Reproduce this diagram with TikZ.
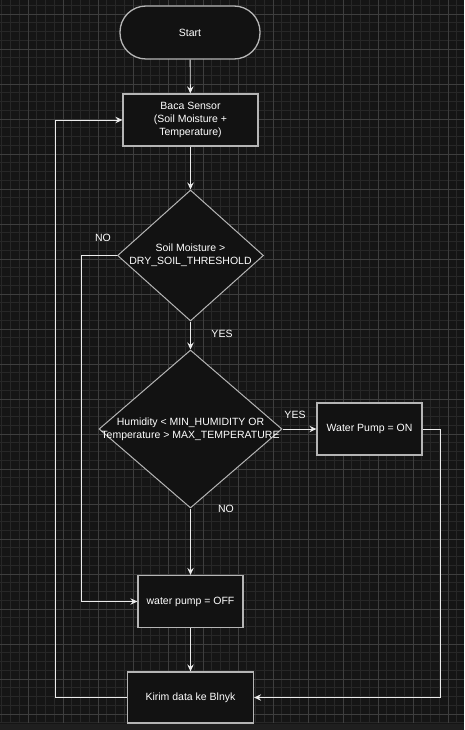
\documentclass[tikz,border=0pt]{standalone}
\usepackage{fontspec}
\setmainfont{Liberation Sans}
\usetikzlibrary{shapes.geometric,arrows.meta,positioning}
\definecolor{bgc}{HTML}{151515}
\definecolor{minorc}{HTML}{272727}
\definecolor{majorc}{HTML}{3e3e3e}
\definecolor{edgec}{HTML}{b5b5b5}
\definecolor{boxc}{HTML}{121212}
\definecolor{linec}{HTML}{ececec}
\definecolor{stripc}{HTML}{1f1f1f}

\begin{document}
\begin{tikzpicture}[x=1pt,y=-1pt,inner sep=0.4mm,
  every node/.style={text=white,font=\fontsize{10.5}{12.6}\selectfont,align=center},
  box/.style={draw=edgec,fill=boxc,line width=1.3pt,minimum width=#1,minimum height=52pt},
  dec/.style={diamond,draw=edgec,fill=boxc,line width=1pt,inner sep=0pt},
  arr/.style={draw=linec,line width=0.9pt,-{Stealth[length=7pt,width=6.5pt,inset=2.5pt]}},
  minor/.style={minorc,line width=0.9pt},
  major/.style={majorc,line width=0.9pt}]
\useasboundingbox (0,0) rectangle (464,730);
\fill[bgc] (0,0) rectangle (464,730);
% grid
\foreach \gx in {1.75,10.5,...,464} \draw[minor] (\gx,0) -- (\gx,723);
\foreach \gy in {5.25,14,...,723} \draw[minor] (0,\gy) -- (464,\gy);
\foreach \gx in {28,63,...,460} \draw[major] (\gx,0) -- (\gx,723);
\foreach \gy in {14,49,...,720} \draw[major] (0,\gy) -- (464,\gy);

% shapes
\node[box=140pt,minimum height=53pt,rounded corners=26pt] (start) at (190,32.5) {Start};
\node[box=135pt] (baca) at (190.5,120) {Baca Sensor\\(Soil Moisture +\\Temperature)};
\node[dec,minimum width=146pt,minimum height=131pt,
  label={center:Soil Moisture >\\DRY\_SOIL\_THRESHOLD}] (d1) at (190.5,255.5) {};
\node[dec,minimum width=183pt,minimum height=158pt,
  label={center:Humidity < MIN\_HUMIDITY OR\\Temperature > MAX\_TEMPERATURE}] (d2) at (190.5,429) {};
\node[box=105pt] (pumpon) at (369.5,429) {Water Pump = ON};
\node[box=105pt] (pumpoff) at (190.5,601.5) {water pump = OFF};
\node[box=126pt,minimum height=51pt] (kirim) at (190.5,697.5) {Kirim data ke Blnyk};

% labels
\node (no1) at (103,238) {NO};
\node (yes1) at (222,334) {YES};
\node (yes2) at (295,415) {YES};
\node (no2) at (226,509) {NO};

% connectors
\coordinate (noL) at (81,255.5);
\coordinate (onR) at (440,429);
\coordinate (loopL) at (55,697.5);
\draw[arr] (start) -- (baca);
\draw[arr] (baca) -- (d1);
\draw[arr] (d1) -- (d2);
\draw[arr] (d2.east) -- (pumpon);
\draw[arr] (d2) -- (pumpoff);
\draw[arr] (pumpoff) -- (kirim);
\draw[arr] (d1.west) -- (noL) |- (pumpoff.west);
\draw[arr] (pumpon.east) -- (onR) |- (kirim.east);
\draw[arr] (kirim.west) -- (loopL) |- (baca.west);

% scroll bar strip
\fill[stripc] (0,723.5) rectangle (464,730);
\end{tikzpicture}
\end{document}
